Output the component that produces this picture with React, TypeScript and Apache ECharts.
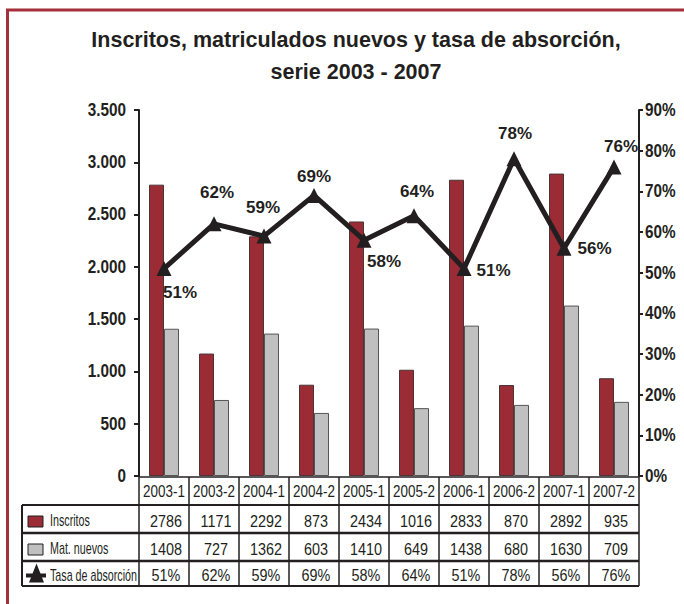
import React, { useEffect, useRef } from "react";
import * as echarts from "echarts";

const categories = ["2003-1", "2003-2", "2004-1", "2004-2", "2005-1", "2005-2", "2006-1", "2006-2", "2007-1", "2007-2"];
const inscritos = [2786, 1171, 2292, 873, 2434, 1016, 2833, 870, 2892, 935];
const matNuevos = [1408, 727, 1362, 603, 1410, 649, 1438, 680, 1630, 709];
const tasa = [51, 62, 59, 69, 58, 64, 51, 78, 56, 76];
const seriesNames = ["Inscritos", "Mat. nuevos", "Tasa de absorción"];
const leftTicks = [0, 500, 1000, 1500, 2000, 2500, 3000, 3500];
const leftTickLabels = ["0", "500", "1.000", "1.500", "2.000", "2.500", "3.000", "3.500"];
const rightTicks = [0, 10, 20, 30, 40, 50, 60, 70, 80, 90];
const rightTickLabels = ["0%", "10%", "20%", "30%", "40%", "50%", "60%", "70%", "80%", "90%"];

// label placement for the percentage labels (style only)
const labelPlacement: [string, number, number][] = [
  ["bottom", 16, 3],
  ["top", 3, -10],
  ["top", -1, -8],
  ["top", 0, 2],
  ["bottom", 20, 0],
  ["top", 3, -3],
  ["right", 0, 2],
  ["top", 1, -4],
  ["right", 1, 0],
  ["top", 7, 1],
];

const W = 684;
const H = 604;
const GRID_L = 139;
const GRID_R = 639;
const GRID_T = 110;
const GRID_B = 476;
const TABLE_L = 22;
const ROW_Y = [477, 505, 533, 561, 586];

const DARK = "#231f20";
const RED = "#9b2b35";
const GREY = "#c0c0c0";
const FRAME = "#a4303b";
const SANS = '"Liberation Sans", Arial, sans-serif';

export default function App() {
  const ref = useRef<HTMLDivElement>(null);
  useEffect(() => {
    if (!ref.current) return;
    const chart = echarts.init(ref.current, null, { renderer: "svg" });
    const n = categories.length;

    chart.setOption({
      animation: false,
      title: {
        text: "Inscritos, matriculados nuevos y tasa de absorción,\nserie 2003 - 2007",
        left: 351,
        top: 19,
        padding: 5,
        textAlign: "center",
        textStyle: { fontSize: 21.5, fontWeight: "bold", lineHeight: 32, color: DARK, fontFamily: SANS },
      },
      grid: { left: GRID_L, right: W - GRID_R, top: GRID_T, bottom: H - GRID_B, containLabel: false },
      xAxis: {
        type: "category",
        data: categories,
        axisLine: { show: false },
        axisTick: { show: false },
        axisLabel: { show: false },
      },
      yAxis: [
        {
          type: "value",
          min: 0,
          max: 3500,
          interval: 500,
          axisLine: { show: true, lineStyle: { color: DARK, width: 2 } },
          axisTick: { show: true, length: 5, lineStyle: { color: DARK, width: 2 } },
          splitLine: { show: false },
          axisLabel: { show: false },
        },
        {
          type: "value",
          min: 0,
          max: 90,
          interval: 10,
          position: "right",
          axisLine: { show: true, lineStyle: { color: DARK, width: 2 } },
          axisTick: { show: true, length: 4, lineStyle: { color: DARK, width: 2 } },
          splitLine: { show: false },
          axisLabel: { show: false },
        },
      ],
      series: [
        {
          name: seriesNames[0],
          type: "bar",
          data: inscritos,
          barWidth: 15,
          barGap: "0%",
          itemStyle: { color: RED, borderColor: "#4a3436", borderWidth: 1 },
        },
        {
          name: seriesNames[1],
          type: "bar",
          data: matNuevos,
          barWidth: 15,
          barGap: "0%",
          itemStyle: { color: GREY, borderColor: "#555555", borderWidth: 1 },
        },
        {
          name: seriesNames[2],
          type: "line",
          yAxisIndex: 1,
          z: 5,
          data: tasa.map((v, i) => ({
            value: v,
            label: { position: labelPlacement[i][0], offset: [labelPlacement[i][1], labelPlacement[i][2]] },
          })),
          symbol: "triangle",
          symbolSize: 15,
          itemStyle: { color: DARK },
          lineStyle: { color: DARK, width: 5 },
          label: {
            show: true,
            formatter: "{c}%",
            color: DARK,
            fontSize: 17,
            fontWeight: "bold",
            fontFamily: SANS,
          },
        },
      ],
    });

    const graphics: any[] = [];
    // red frame
    graphics.push({ type: "line", shape: { x1: 6, y1: 10, x2: W, y2: 10 }, style: { stroke: FRAME, lineWidth: 3 } });
    graphics.push({ type: "line", shape: { x1: 7.5, y1: 9, x2: 7.5, y2: H }, style: { stroke: FRAME, lineWidth: 3 } });

    // axis tick labels, placed through the axes' own scales
    leftTicks.forEach((v, i) => {
      const y = chart.convertToPixel({ yAxisIndex: 0 }, v) as number;
      graphics.push({
        type: "text",
        x: 126,
        y: y,
        scaleX: 0.85,
        style: { text: leftTickLabels[i], fill: DARK, font: `bold 18px ${SANS}`, textAlign: "right", textVerticalAlign: "middle" },
      });
    });
    rightTicks.forEach((v, i) => {
      const y = chart.convertToPixel({ yAxisIndex: 1 }, v) as number;
      graphics.push({
        type: "text",
        x: 645,
        y: y,
        scaleX: 0.85,
        style: { text: rightTickLabels[i], fill: DARK, font: `bold 18px ${SANS}`, textAlign: "left", textVerticalAlign: "middle" },
      });
    });

    // table lines
    const ln = (x1: number, y1: number, x2: number, y2: number, w: number) =>
      graphics.push({ type: "line", shape: { x1, y1, x2, y2 }, style: { stroke: DARK, lineWidth: w } });
    ln(GRID_L, ROW_Y[0], GRID_R, ROW_Y[0], 1.5);
    ln(TABLE_L, ROW_Y[1], GRID_R, ROW_Y[1], 2);
    ln(TABLE_L, ROW_Y[2], GRID_R, ROW_Y[2], 2.5);
    ln(TABLE_L, ROW_Y[3], GRID_R, ROW_Y[3], 2.5);
    ln(TABLE_L, ROW_Y[4], GRID_R, ROW_Y[4], 2);
    ln(TABLE_L, ROW_Y[1], TABLE_L, ROW_Y[4], 2);
    const colW = (GRID_R - GRID_L) / n;
    for (let k = 0; k <= n; k++) {
      const x = GRID_L + colW * k;
      ln(x, ROW_Y[0], x, ROW_Y[4], 1.5);
    }
    const rowsData = [inscritos.map(String), matNuevos.map(String), tasa.map((v) => v + "%")];
    for (let i = 0; i < n; i++) {
      const cx = chart.convertToPixel({ xAxisIndex: 0 }, categories[i]) as number;
      graphics.push({
        type: "text",
        x: cx,
        y: (ROW_Y[0] + ROW_Y[1]) / 2 + 1,
        scaleX: 0.84,
        style: { text: categories[i], fill: DARK, font: `16px ${SANS}`, textAlign: "center", textVerticalAlign: "middle" },
      });
      for (let r = 0; r < 3; r++) {
        graphics.push({
          type: "text",
          x: cx + 2,
          y: (ROW_Y[r + 1] + ROW_Y[r + 2]) / 2 + 2,
          scaleX: 0.9,
          style: { text: rowsData[r][i], fill: DARK, font: `16px ${SANS}`, textAlign: "center", textVerticalAlign: "middle" },
        });
      }
    }
    // legend cells
    for (let r = 0; r < 3; r++) {
      const cy = (ROW_Y[r + 1] + ROW_Y[r + 2]) / 2;
      graphics.push({
        type: "text",
        x: 50,
        y: cy + 2,
        scaleX: 0.67,
        style: { text: seriesNames[r], fill: DARK, font: `16px ${SANS}`, textAlign: "left", textVerticalAlign: "middle" },
      });
    }
    const c1 = (ROW_Y[1] + ROW_Y[2]) / 2;
    const c2 = (ROW_Y[2] + ROW_Y[3]) / 2;
    const c3 = (ROW_Y[3] + ROW_Y[4]) / 2;
    graphics.push({ type: "rect", shape: { x: 28, y: c1 - 3, width: 15, height: 11 }, style: { fill: RED, stroke: DARK, lineWidth: 1 } });
    graphics.push({ type: "rect", shape: { x: 28, y: c2 - 3, width: 15, height: 11 }, style: { fill: GREY, stroke: DARK, lineWidth: 1 } });
    graphics.push({ type: "line", shape: { x1: 26, y1: c3 + 2, x2: 46, y2: c3 + 2 }, style: { stroke: DARK, lineWidth: 4 } });
    graphics.push({ type: "polygon", shape: { points: [[36.5, c3 - 10], [29, c3 + 9], [44, c3 + 9]] }, style: { fill: DARK } });

    chart.setOption({ graphic: graphics });
    return () => chart.dispose();
  }, []);
  return <div ref={ref} style={{ position: "fixed", left: 0, top: 0, width: W, height: H, background: "#fff" }} />;
}
